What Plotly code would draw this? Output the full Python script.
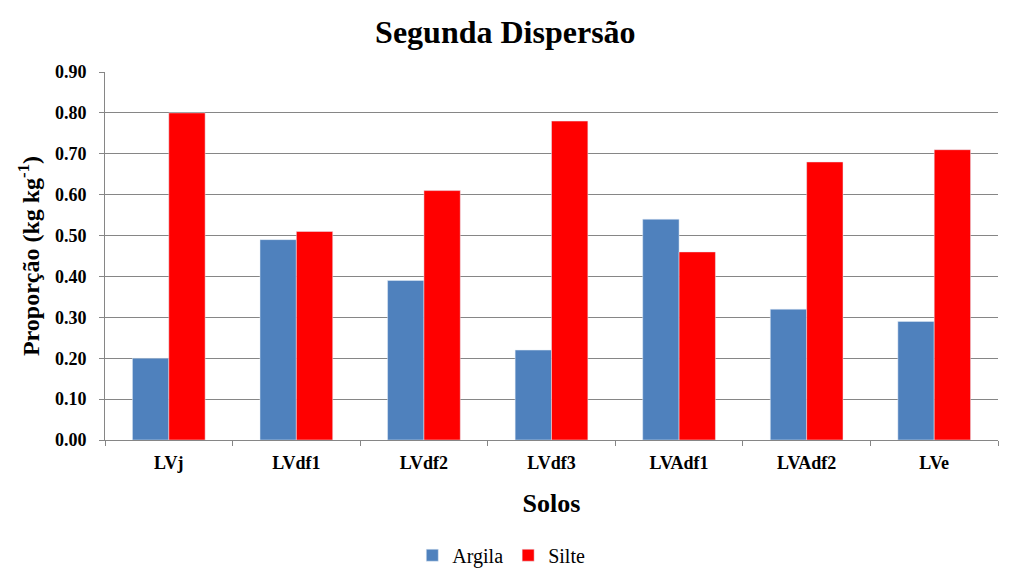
import plotly.graph_objects as go

solos = ["LVj", "LVdf1", "LVdf2", "LVdf3", "LVAdf1", "LVAdf2", "LVe"]
argila = [0.20, 0.49, 0.39, 0.22, 0.54, 0.32, 0.29]
silte = [0.80, 0.51, 0.61, 0.78, 0.46, 0.68, 0.71]
y_ticks = [0.0, 0.1, 0.2, 0.3, 0.4, 0.5, 0.6, 0.7, 0.8, 0.9]
y_labels = ["<b>%.2f</b>" % v for v in y_ticks]

serif = "Liberation Serif"

fig = go.Figure()
fig.add_trace(go.Bar(x=solos, y=argila, name="Argila", marker_color="#4f81bd"))
fig.add_trace(go.Bar(x=solos, y=silte, name="Silte", marker_color="#ff0000"))

# page body has an 8px margin, so the figure is a bit smaller and shifted
fig.update_layout(
    width=1015,
    height=573,
    margin=dict(l=97, r=25, t=64, b=141, autoexpand=False),
    plot_bgcolor="white",
    paper_bgcolor="white",
    barmode="group",
    bargap=0.43,
    bargroupgap=0,
    font=dict(family=serif, color="#000000"),
    title=dict(
        text="<b>Segunda Dispersão</b>",
        x=0.49, xanchor="center",
        y=0.958, yanchor="middle",
        font=dict(size=32, family=serif, color="#000000"),
    ),
    legend=dict(
        orientation="h",
        xref="container", x=0.486, xanchor="center",
        yref="container", y=0.045, yanchor="middle",
        font=dict(size=20, family=serif),
        itemwidth=30,
        traceorder="normal",
    ),
    xaxis=dict(
        title=dict(text="<b>Solos</b>", font=dict(size=26, family=serif), standoff=22),
        tickfont=dict(size=18, family=serif),
        tickprefix="<b>", ticksuffix="</b>",
        showline=True, linecolor="#868686", linewidth=1,
        ticks="outside", tickson="boundaries", ticklen=5, tickcolor="#868686",
        ticklabelstandoff=6,
        showgrid=False,
        automargin=False,
    ),
    yaxis=dict(
        title=dict(text="<b>Proporção (kg kg<sup>-1</sup>)</b>", font=dict(size=24, family=serif), standoff=8),
        range=[0, 0.9],
        tickvals=y_ticks,
        ticktext=y_labels,
        tickfont=dict(size=18, family=serif),
        showline=True, linecolor="#868686", linewidth=1,
        ticks="outside", ticklen=5, tickcolor="#868686",
        ticklabelstandoff=9,
        showgrid=True, gridcolor="#868686", gridwidth=1,
        zeroline=False,
        automargin=False,
    ),
)

fig.write_html("out.html")
